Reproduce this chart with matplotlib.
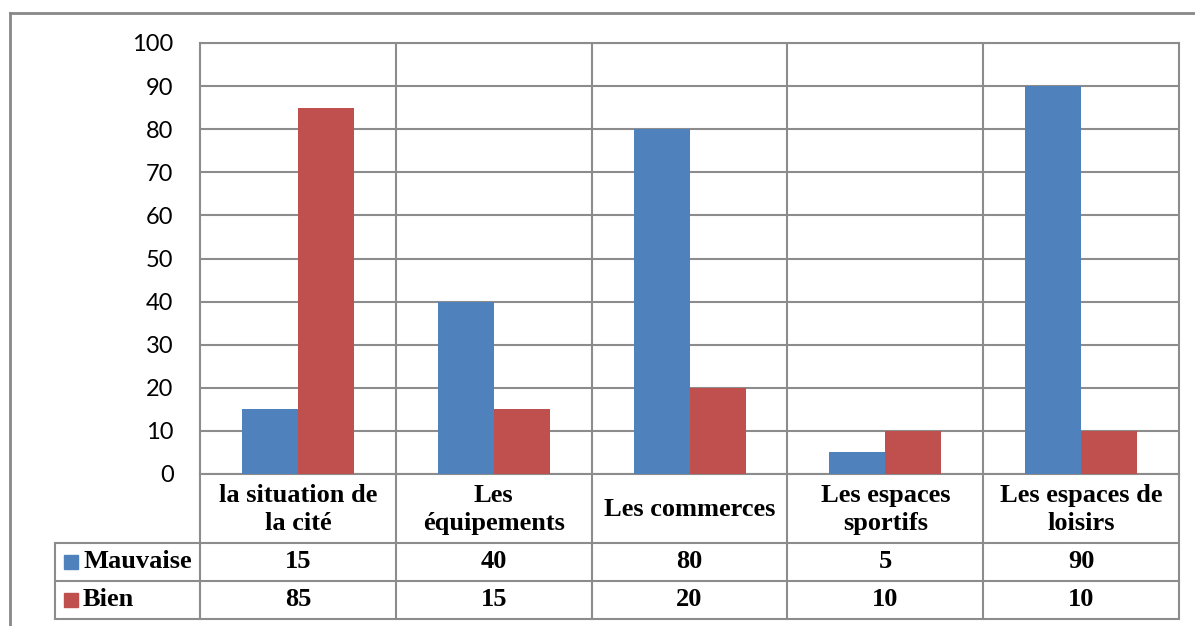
import matplotlib.pyplot as plt
from matplotlib.lines import Line2D
from matplotlib.patches import Rectangle

categories = ['la situation de\nla cité', 'Les\néquipements', 'Les commerces',
              'Les espaces\nsportifs', 'Les espaces de\nloisirs']
series_names = ['Mauvaise', 'Bien']
mauvaise = [15, 40, 80, 5, 90]
bien = [85, 15, 20, 10, 10]
yticks = [0, 10, 20, 30, 40, 50, 60, 70, 80, 90, 100]

colors = ['#4F81BD', '#C0504D']
grid_col = '#8C8C8C'
W, H = 1195, 626


def fx(px):
    return px / W


def fy(py):
    return 1 - py / H


def hline(fig, x0, x1, y, lw=1.5, color=grid_col):
    fig.add_artist(Line2D([fx(x0), fx(x1)], [fy(y), fy(y)], color=color, lw=lw,
                          transform=fig.transFigure))


def vline(fig, x, y0, y1, lw=1.5, color=grid_col):
    fig.add_artist(Line2D([fx(x), fx(x)], [fy(y0), fy(y1)], color=color, lw=lw,
                          transform=fig.transFigure))


fig = plt.figure(figsize=(W / 100, H / 100), dpi=100)
left, right, top, bottom = 200, 1179, 43, 474
ax = fig.add_axes([fx(left), fy(bottom), fx(right - left), (bottom - top) / H])

n = len(categories)
x = list(range(n))
bw = 56 / ((right - left) / n)
ax.bar([i - bw / 2 for i in x], mauvaise, width=bw, color=colors[0], zorder=3)
ax.bar([i + bw / 2 for i in x], bien, width=bw, color=colors[1], zorder=3)

ax.set_xlim(-0.5, n - 0.5)
ax.set_ylim(0, 100)
ax.set_yticks(yticks)
ax.set_xticks([])
ax.yaxis.grid(True, color=grid_col, lw=1.5, zorder=0)
for b in range(1, n):
    ax.axvline(b - 0.5, color=grid_col, lw=1.5, zorder=0)
for s in ax.spines.values():
    s.set_color(grid_col)
    s.set_linewidth(1.5)
ax.tick_params(axis='y', length=0, pad=19, labelsize=17)
for lab in ax.get_yticklabels():
    lab.set_fontfamily('Lato')

# data table below the plot
row_label, row1, row2, row3 = 474, 543, 581, 619
leg_left = 55
col_w = (right - left) / n
bounds = [left + i * col_w for i in range(n + 1)]
for bx in bounds:
    vline(fig, bx, row_label, row3)
vline(fig, leg_left, row1, row3)
for ry in (row1, row2, row3):
    hline(fig, leg_left, right, ry)

tfont = dict(family='Liberation Serif', weight='bold', fontsize=19)
for i, cat in enumerate(categories):
    cx = fx((bounds[i] + bounds[i + 1]) / 2)
    fig.text(cx, fy((row_label + row1) / 2 + 1), cat, ha='center', va='center',
             linespacing=1.25, **tfont)
    fig.text(cx, fy((row1 + row2) / 2), str(mauvaise[i]), ha='center', va='center', **tfont)
    fig.text(cx, fy((row2 + row3) / 2), str(bien[i]), ha='center', va='center', **tfont)

for j, (name, ry0, ry1) in enumerate([(series_names[0], row1, row2),
                                      (series_names[1], row2, row3)]):
    cy = (ry0 + ry1) / 2
    fig.add_artist(Rectangle((fx(64), fy(cy + 7)), 14 / W, 14 / H,
                             color=colors[j], transform=fig.transFigure))
    fig.text(fx(83), fy(cy), name, ha='left', va='center', **tfont)

# outer chart frame
hline(fig, 10, W, 13, lw=2, color='#888888')
vline(fig, 10, 13, H, lw=2, color='#888888')

fig.savefig('out.png', dpi=100)
